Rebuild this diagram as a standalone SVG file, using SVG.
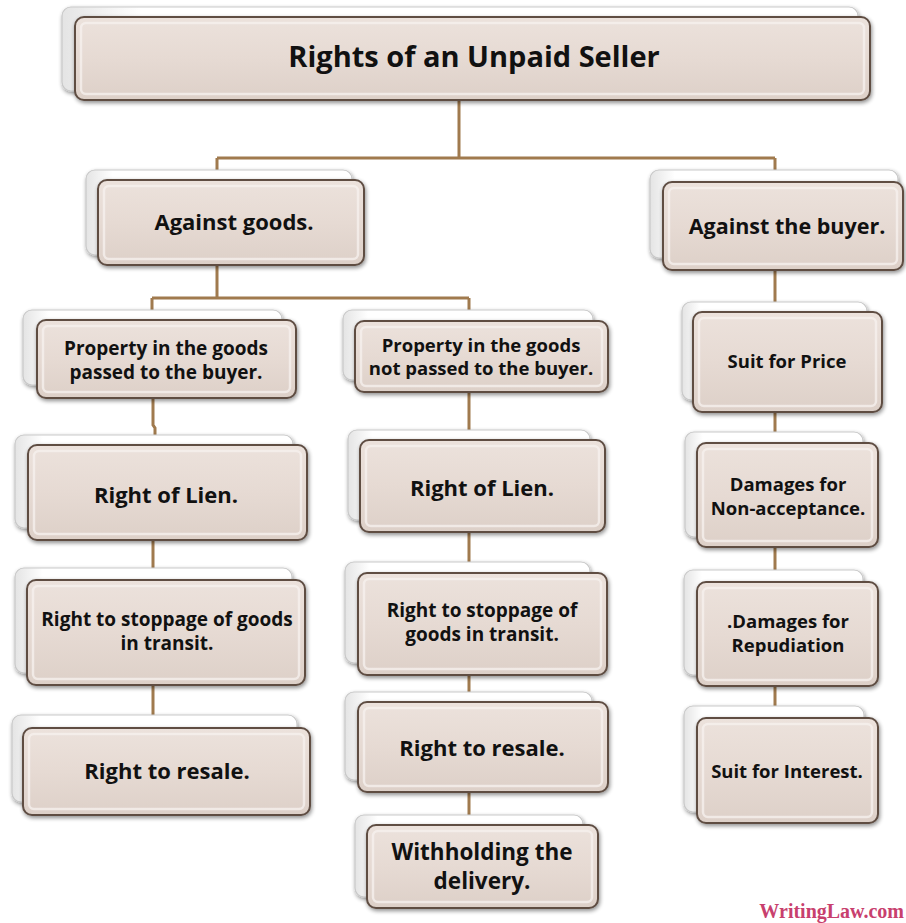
<svg xmlns="http://www.w3.org/2000/svg" width="906" height="923" viewBox="0 0 906 923">
<defs>
<linearGradient id="g" x1="0" y1="0" x2="0" y2="1">
<stop offset="0" stop-color="#ece2dc"/>
<stop offset="0.5" stop-color="#e6dad3"/>
<stop offset="1" stop-color="#ddd0c8"/>
</linearGradient>
<linearGradient id="gb" x1="0" y1="0" x2="1" y2="0">
<stop offset="0" stop-color="#e4e4e4"/>
<stop offset="0.1" stop-color="#ffffff"/>
<stop offset="1" stop-color="#ffffff"/>
</linearGradient>
<filter id="sh" x="-10%" y="-10%" width="120%" height="130%">
<feGaussianBlur in="SourceAlpha" stdDeviation="2"/>
<feOffset dx="1" dy="2"/>
<feComponentTransfer><feFuncA type="linear" slope="0.45"/></feComponentTransfer>
<feMerge><feMergeNode/><feMergeNode in="SourceGraphic"/></feMerge>
</filter>
</defs>
<style>
.back{fill:url(#gb);stroke:#c9c9c9;stroke-width:1.2;filter:url(#sh)}
.front{fill:url(#g);stroke:#5e4d43;stroke-width:2;filter:url(#sh)}
.bev{fill:none;stroke:#f7f2ef;stroke-width:2.5;opacity:0.75}
.t{font-family:"Open Sans",Lato,"Liberation Sans",sans-serif;font-weight:700;fill:#111;text-anchor:middle}
.ln{fill:none;stroke:#a07a4e;stroke-width:3}
</style>
<rect width="906" height="923" fill="#fff"/>
<g id="connectors">
<path class="ln" d="M459,100 V158 M217,158 H775 M217,158 V180 M775,158 V182"/>
<path class="ln" d="M217,265 V298 M152,298 H469 M152,298 V320 M469,298 V321"/>
<path class="ln" d="M153,398 V425 L155,428 V445 M153,540 V580 M153,685 V728"/>
<path class="ln" d="M469,392 V440 M469,532 V573 M469,675 V702 M469,792 V825"/>
<path class="ln" d="M775,270 V312 M775,412 V443 M775,547 V582 M775,686 V718"/>
</g>
<g id="n-title">
<rect class="back" x="62" y="7" width="796" height="84" rx="9"/>
<rect class="front" x="75" y="17" width="795" height="83" rx="9"/>
<rect class="bev" x="81" y="23" width="783" height="71" rx="5"/>
<text class="t" x="474" y="67" font-size="29">Rights of an Unpaid Seller</text>
</g>
<g id="n-goods">
<rect class="back" x="86" y="170" width="266" height="85" rx="9"/>
<rect class="front" x="98" y="180" width="266" height="85" rx="9"/>
<rect class="bev" x="104" y="186" width="254" height="73" rx="5"/>
<text class="t" x="234" y="230" font-size="22">Against goods.</text>
</g>
<g id="n-buyer">
<rect class="back" x="650" y="170" width="248" height="88" rx="9"/>
<rect class="front" x="663" y="182" width="240" height="88" rx="9"/>
<rect class="bev" x="669" y="188" width="228" height="76" rx="5"/>
<text class="t" x="787" y="234" font-size="21.5">Against the buyer.</text>
</g>
<g id="n-passed">
<rect class="back" x="23" y="310" width="259" height="75" rx="9"/>
<rect class="front" x="37" y="320" width="259" height="78" rx="9"/>
<rect class="bev" x="43" y="326" width="247" height="66" rx="5"/>
<text class="t" x="166" y="355" font-size="19">Property in the goods</text>
<text class="t" x="166" y="379" font-size="19">passed to the buyer.</text>
</g>
<g id="n-notpassed">
<rect class="back" x="343" y="310" width="250" height="70" rx="9"/>
<rect class="front" x="355" y="321" width="253" height="71" rx="9"/>
<rect class="bev" x="361" y="327" width="241" height="59" rx="5"/>
<text class="t" x="481" y="352" font-size="18.5">Property in the goods</text>
<text class="t" x="481" y="375" font-size="18.5">not passed to the buyer.</text>
</g>
<g id="n-lien1">
<rect class="back" x="15" y="435" width="278" height="93" rx="9"/>
<rect class="front" x="28" y="445" width="279" height="95" rx="9"/>
<rect class="bev" x="34" y="451" width="267" height="83" rx="5"/>
<text class="t" x="166" y="503" font-size="22">Right of Lien.</text>
</g>
<g id="n-stop1">
<rect class="back" x="15" y="568" width="277" height="105" rx="9"/>
<rect class="front" x="27" y="580" width="278" height="105" rx="9"/>
<rect class="bev" x="33" y="586" width="266" height="93" rx="5"/>
<text class="t" x="167" y="626" font-size="19">Right to stoppage of goods</text>
<text class="t" x="167" y="650" font-size="19">in transit.</text>
</g>
<g id="n-resale1">
<rect class="back" x="12" y="715" width="285" height="87" rx="9"/>
<rect class="front" x="23" y="728" width="287" height="87" rx="9"/>
<rect class="bev" x="29" y="734" width="275" height="75" rx="5"/>
<text class="t" x="167" y="779" font-size="22">Right to resale.</text>
</g>
<g id="n-lien2">
<rect class="back" x="348" y="430" width="242" height="90" rx="9"/>
<rect class="front" x="360" y="440" width="245" height="92" rx="9"/>
<rect class="bev" x="366" y="446" width="233" height="80" rx="5"/>
<text class="t" x="482" y="496" font-size="22">Right of Lien.</text>
</g>
<g id="n-stop2">
<rect class="back" x="345" y="562" width="245" height="101" rx="9"/>
<rect class="front" x="358" y="573" width="249" height="102" rx="9"/>
<rect class="bev" x="364" y="579" width="237" height="90" rx="5"/>
<text class="t" x="482" y="617" font-size="19">Right to stoppage of</text>
<text class="t" x="482" y="641" font-size="19">goods in transit.</text>
</g>
<g id="n-resale2">
<rect class="back" x="345" y="692" width="247" height="88" rx="9"/>
<rect class="front" x="358" y="702" width="250" height="90" rx="9"/>
<rect class="bev" x="364" y="708" width="238" height="78" rx="5"/>
<text class="t" x="482" y="756" font-size="22">Right to resale.</text>
</g>
<g id="n-withhold">
<rect class="back" x="355" y="815" width="228" height="82" rx="9"/>
<rect class="front" x="367" y="825" width="231" height="83" rx="9"/>
<rect class="bev" x="373" y="831" width="219" height="71" rx="5"/>
<text class="t" x="482" y="860" font-size="22.5">Withholding the</text>
<text class="t" x="482" y="889" font-size="22.5">delivery.</text>
</g>
<g id="n-price">
<rect class="back" x="682" y="302" width="185" height="98" rx="9"/>
<rect class="front" x="693" y="312" width="189" height="100" rx="9"/>
<rect class="bev" x="699" y="318" width="177" height="88" rx="5"/>
<text class="t" x="787" y="368" font-size="18.5">Suit for Price</text>
</g>
<g id="n-nonaccept">
<rect class="back" x="685" y="432" width="178" height="105" rx="9"/>
<rect class="front" x="697" y="443" width="181" height="104" rx="9"/>
<rect class="bev" x="703" y="449" width="169" height="92" rx="5"/>
<text class="t" x="788" y="491" font-size="18.5">Damages for</text>
<text class="t" x="788" y="515" font-size="18.5">Non-acceptance.</text>
</g>
<g id="n-repud">
<rect class="back" x="684" y="570" width="179" height="105" rx="9"/>
<rect class="front" x="697" y="582" width="181" height="104" rx="9"/>
<rect class="bev" x="703" y="588" width="169" height="92" rx="5"/>
<text class="t" x="788" y="628" font-size="18.5">.Damages for</text>
<text class="t" x="788" y="652" font-size="18.5">Repudiation</text>
</g>
<g id="n-interest">
<rect class="back" x="684" y="706" width="180" height="106" rx="9"/>
<rect class="front" x="697" y="718" width="181" height="105" rx="9"/>
<rect class="bev" x="703" y="724" width="169" height="93" rx="5"/>
<text class="t" x="787" y="778" font-size="18.5">Suit for Interest.</text>
</g>
<text x="904" y="918" text-anchor="end" font-family="Liberation Serif,serif" font-weight="700" font-size="20" fill="#c8406e">WritingLaw.com</text>
</svg>
